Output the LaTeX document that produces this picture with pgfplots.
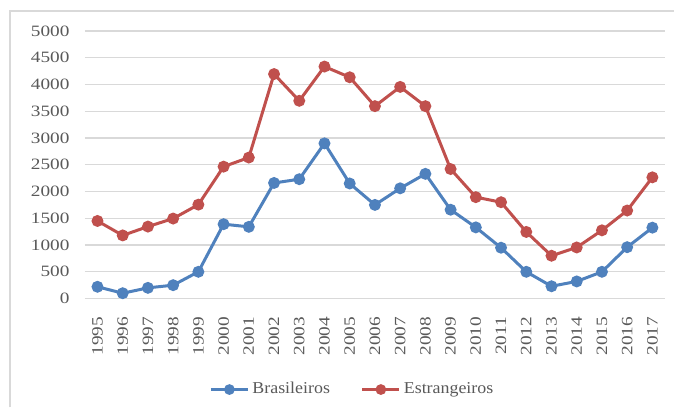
\documentclass[border=0pt]{standalone}
\usepackage{pgfplots}
\pgfplotsset{compat=1.18}
\usepackage{fontspec}
\setmainfont{Liberation Serif}
\newfontfamily\tickfont[FakeStretch=1.22]{Liberation Serif}
\newfontfamily\legfont[FakeStretch=1.08]{Liberation Serif}
\definecolor{cblue}{HTML}{4F81BD}
\definecolor{cred}{HTML}{C0504D}
\definecolor{cgrid}{HTML}{D9D9D9}
\definecolor{ctext}{HTML}{595959}
\begin{document}
\begin{tikzpicture}
\path[fill=white] (0,0) rectangle (337.5pt,204pt);
\draw[cgrid, line width=1pt] (5pt,0) -- (5pt,198.5pt) -- (337.5pt,198.5pt);
\begin{axis}[
  at={(42.5pt,54.5pt)}, anchor=south west,
  scale only axis, width=290.5pt, height=134pt,
  xmin=1994.5, xmax=2017.5, ymin=0, ymax=5000,
  xtick={1995,...,2017}, ytick={0,500,...,5000},
  axis line style={draw=none},
  major tick length=0pt,
  ymajorgrids, grid style={cgrid, line width=0.6pt},
  /pgf/number format/assume math mode=true,
  /pgf/number format/1000 sep={},
  xticklabel style={yshift=-9pt, rotate=90, anchor=east, inner sep=0pt, font=\tickfont\fontsize{7.9}{8}\selectfont, text=ctext},
  yticklabel style={anchor=east, inner sep=0pt, xshift=-7.5pt, font=\tickfont\fontsize{7.9}{8}\selectfont, text=ctext},
  legend columns=2,
  legend style={at={(axis description cs:0.462,-0.34)}, anchor=center, draw=none, fill=none,
    font=\legfont\fontsize{8.3}{9}\selectfont, text=ctext,
    nodes={inner sep=1.5pt},
    /tikz/every even column/.append style={column sep=14pt}},
  legend image code/.code={\draw[#1, line width=1.5pt, mark size=1.9pt, mark repeat=2, mark phase=2] plot coordinates {(0pt,0pt) (9.25pt,0pt) (18.5pt,0pt)};},
]
\addplot[cblue, line width=1.5pt, mark=*, mark size=2.2pt, mark options={fill=cblue, draw=cblue}] coordinates {
(1995,220) (1996,100) (1997,200) (1998,250) (1999,500) (2000,1390) (2001,1340) (2002,2160) (2003,2230) (2004,2900) (2005,2150) (2006,1750) (2007,2060) (2008,2330) (2009,1660) (2010,1330) (2011,950) (2012,500) (2013,230) (2014,320) (2015,500) (2016,960) (2017,1325)};
\addlegendentry{Brasileiros}
\addplot[cred, line width=1.5pt, mark=*, mark size=2.2pt, mark options={fill=cred, draw=cred}] coordinates {
(1995,1450) (1996,1180) (1997,1345) (1998,1495) (1999,1755) (2000,2465) (2001,2635) (2002,4195) (2003,3695) (2004,4335) (2005,4135) (2006,3595) (2007,3955) (2008,3595) (2009,2420) (2010,1895) (2011,1800) (2012,1245) (2013,800) (2014,955) (2015,1275) (2016,1645) (2017,2265)};
\addlegendentry{Estrangeiros}
\end{axis}
\end{tikzpicture}
\end{document}
